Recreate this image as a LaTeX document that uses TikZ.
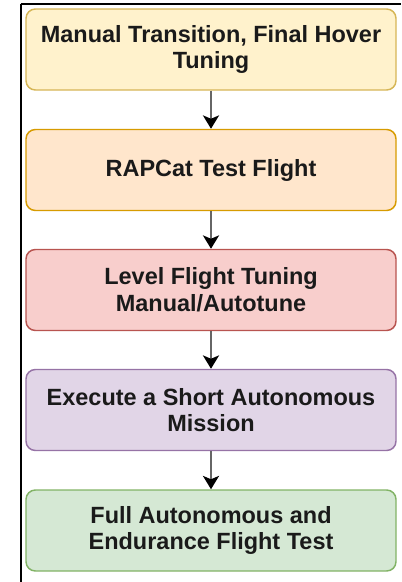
\documentclass[tikz,border=0pt]{standalone}
\usepackage{fontspec}
\setmainfont{Liberation Sans}
\usetikzlibrary{arrows.meta}
\definecolor{yfill}{HTML}{FFF2CC}\definecolor{ydraw}{HTML}{D6B656}
\definecolor{ofill}{HTML}{FFE6CC}\definecolor{odraw}{HTML}{D79B00}
\definecolor{rfill}{HTML}{F8CECC}\definecolor{rdraw}{HTML}{B85450}
\definecolor{pfill}{HTML}{E1D5E7}\definecolor{pdraw}{HTML}{9673A6}
\definecolor{gfill}{HTML}{D5E8D4}\definecolor{gdraw}{HTML}{82B366}
\definecolor{txt}{HTML}{1A1A1A}
\definecolor{conn}{HTML}{666666}
\tikzset{
  stepbox/.style={draw, line width=1.1pt, rounded corners=7pt, minimum width=277.5pt,
    minimum height=60.75pt, inner sep=0pt, align=center, text=txt,
    font=\fontsize{17.6}{20}\selectfont\bfseries},
  flow/.style={draw=conn, line width=1.8pt, -{Stealth[length=10pt,width=12pt,inset=2.5pt,fill=black,color=black]}},
  frame/.style={line width=1.5pt, black}
}
\begin{document}
\begin{tikzpicture}[x=0.75pt,y=-0.75pt]
\useasboundingbox (0,0) rectangle (401,582);
\coordinate (ftl) at (20.5,4);
\coordinate (fbl) at (20.5,582);
\coordinate (ftr) at (401,4);
\draw[frame] (fbl) -- (ftl);
\draw[frame] (ftl) -- (ftr);
\node[stepbox, fill=yfill, draw=ydraw] (b1) at (211,49.5) {Manual Transition, Final Hover\\Tuning};
\node[stepbox, fill=ofill, draw=odraw] (b2) at (211,170) {RAPCat Test Flight};
\node[stepbox, fill=rfill, draw=rdraw] (b3) at (211,290) {Level Flight Tuning\\Manual/Autotune};
\node[stepbox, fill=pfill, draw=pdraw] (b4) at (211,410) {Execute a Short Autonomous\\Mission};
\node[stepbox, fill=gfill, draw=gdraw] (b5) at (211,530.5) {Full Autonomous and\\Endurance Flight Test};
\draw[flow] (b1) -- (b2);
\draw[flow] (b2) -- (b3);
\draw[flow] (b3) -- (b4);
\draw[flow] (b4) -- (b5);
\end{tikzpicture}
\end{document}
